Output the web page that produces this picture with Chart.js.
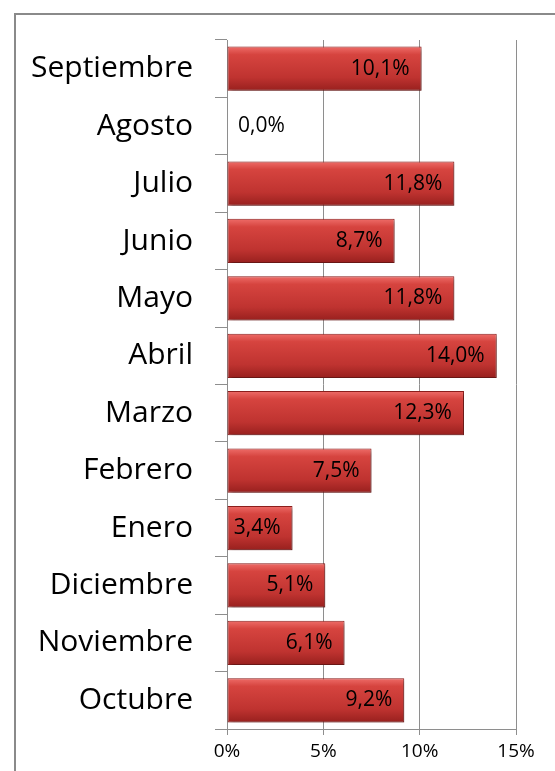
<!DOCTYPE html>
<html>
<head>
<meta charset="utf-8">
<script src="https://cdn.jsdelivr.net/npm/chart.js@4"></script>
<style>
  html, body { margin: 0; padding: 0; background: #fff; }
  #wrap { position: relative; width: 555px; height: 771px; overflow: hidden; }
  #frame { position: absolute; left: 14px; top: 13px; width: 600px; height: 800px; border: 2px solid #8a8a8a; box-sizing: border-box; }
  #salesChart { position: absolute; left: 0; top: 0; }
</style>
</head>
<body>
<div id="wrap">
  <div id="frame"></div>
  <canvas id="salesChart" width="555" height="771"></canvas>
</div>
<script>
// months from top to bottom, as in the picture
const months = ["Septiembre", "Agosto", "Julio", "Junio", "Mayo", "Abril", "Marzo",
  "Febrero", "Enero", "Diciembre", "Noviembre", "Octubre"];
const shares = [10.1, 0.0, 11.8, 8.7, 11.8, 14.0, 12.3, 7.5, 3.4, 5.1, 6.1, 9.2];
const xTicks = [0, 5, 10, 15];

const fontName = "'Open Sans', sans-serif";

// vertical gradient for each bar so it looks like the shaded Excel bars
function barFill(context) {
  const chart = context.chart;
  const yScale = chart.scales.y;
  if (!yScale || context.dataIndex === undefined) return "#c83c3a";
  const mid = yScale.getPixelForValue(context.dataIndex);
  if (!Number.isFinite(mid)) return "#c83c3a";
  const half = 22;
  const g = chart.ctx.createLinearGradient(0, mid - half, 0, mid + half);
  g.addColorStop(0, "#ee6c68");
  g.addColorStop(0.18, "#d6443f");
  g.addColorStop(0.7, "#bf3330");
  g.addColorStop(1, "#98201e");
  return g;
}

// small drop shadow under the bars
const barShadow = {
  id: "barShadow",
  beforeDatasetDraw(chart) {
    const ctx = chart.ctx;
    ctx.save();
    ctx.shadowColor = "rgba(0, 0, 0, 0.35)";
    ctx.shadowOffsetX = 2;
    ctx.shadowOffsetY = 2;
    ctx.shadowBlur = 3;
  },
  afterDatasetDraw(chart) {
    chart.ctx.restore();
  },
};

// percentage labels at the end of the bars
const valueLabels = {
  id: "valueLabels",
  afterDatasetsDraw(chart) {
    const ctx = chart.ctx;
    const meta = chart.getDatasetMeta(0);
    ctx.save();
    ctx.font = "21px " + fontName;
    ctx.fillStyle = "#000";
    ctx.textBaseline = "middle";
    meta.data.forEach((bar, i) => {
      const text = shares[i].toFixed(1).replace(".", ",") + "%";
      if (shares[i] === 0) {
        ctx.textAlign = "left";
        ctx.fillText(text, bar.base + 11, bar.y);
      } else {
        ctx.textAlign = "right";
        ctx.fillText(text, bar.x - 12, bar.y);
      }
    });
    ctx.restore();
  },
};

const ctx = document.getElementById("salesChart").getContext("2d");
const salesChart = new Chart(ctx, {
  type: "bar",
  data: {
    labels: months,
    datasets: [
      {
        data: shares,
        backgroundColor: barFill,
        borderColor: "#8c1e1c",
        borderWidth: 1,
        borderSkipped: false,
        categoryPercentage: 1,
        barPercentage: 0.77,
      },
    ],
  },
  plugins: [barShadow, valueLabels],
  options: {
    indexAxis: "y",
    responsive: false,
    animation: false,
    layout: { padding: { top: 36, right: 39, left: 0, bottom: 0 } },
    plugins: {
      legend: { display: false },
      tooltip: { enabled: false },
    },
    scales: {
      x: {
        min: 0,
        max: 15,
        afterBuildTicks(scale) {
          scale.ticks = xTicks.map((v) => ({ value: v }));
        },
        afterFit(scale) {
          scale.height = 42;
        },
        ticks: {
          callback: (v) => v + "%",
          color: "#000",
          font: { family: fontName, size: 19 },
          padding: 5,
          maxRotation: 0,
        },
        grid: {
          color: "#8e8e8e",
          lineWidth: 1,
          tickLength: 6,
        },
        border: { color: "#8e8e8e", width: 1 },
      },
      y: {
        offset: true,
        afterFit(scale) {
          scale.width = 227;
        },
        ticks: {
          color: "#000",
          font: { family: fontName, size: 30 },
          padding: 22,
        },
        grid: {
          offset: true,
          drawOnChartArea: false,
          color: "#8e8e8e",
          tickLength: 12,
        },
        border: { color: "#8e8e8e", width: 1 },
      },
    },
  },
});
</script>
</body>
</html>
